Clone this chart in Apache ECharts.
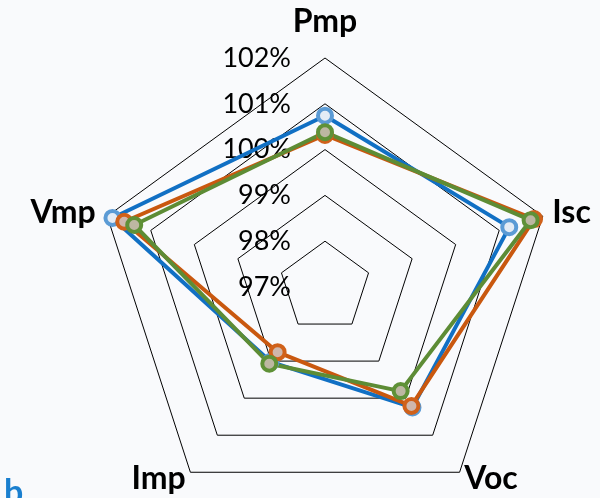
<!DOCTYPE html>
<html>
<head>
<meta charset="utf-8">
<script src="https://cdn.jsdelivr.net/npm/echarts@6/dist/echarts.min.js"></script>
<style>
  html, body { margin: 0; padding: 0; background: #f9fafc; }
  #chart { width: 600px; height: 498px; }
</style>
</head>
<body>
<div id="chart"></div>
<script>
// Axes of the radar, in ECharts order (counter-clockwise from the top)
const indicators = ['Pmp', 'Vmp', 'Imp', 'Voc', 'Isc'];
// Gap between each axis end and its name
const nameGaps = [20, 12, 8, 8, 10];
// Scale of the rings, in percent
const scaleMin = 97;
const scaleMax = 102;
// Relative values (%) for each sample, in indicator order
const seriesBlue   = [100.74, 101.88, 99.02, 100.25, 101.23];
const seriesOrange = [100.32, 101.61, 98.76, 100.21, 101.80];
const seriesGreen  = [100.38, 101.38, 99.07, 99.81, 101.72];

const lineColors   = ['#1170c4', '#c9580f', '#5d8c35'];
const ringColors   = ['#5b9bd5', '#d0611a', '#5f9137'];
const fillColors   = ['#e4ecf5', '#cfb7ac', '#bdb7a2'];
const seriesValues = [seriesBlue, seriesOrange, seriesGreen];

const chart = echarts.init(document.getElementById('chart'));

const option = {
  backgroundColor: '#f9fafc',
  animation: false,
  radar: {
    center: [325, 287],
    radius: 229,
    startAngle: 90,
    shape: 'polygon',
    splitNumber: scaleMax - scaleMin,
    indicator: indicators.map((name, i) => ({
      name: name,
      min: scaleMin,
      max: scaleMax,
      nameGap: nameGaps[i],
      axisLabel: { show: i === 0 }
    })),
    axisName: {
      color: '#000',
      fontFamily: 'Lato',
      fontWeight: 'bold',
      fontSize: 32
    },
    splitLine: { lineStyle: { color: '#000', width: 1 } },
    splitArea: { show: false },
    axisLine: { show: false },
    axisTick: { show: false },
    axisLabel: {
      color: '#000',
      fontFamily: 'Lato',
      fontSize: 27,
      margin: 34,
      formatter: v => v + '%'
    }
  },
  series: [{
    type: 'radar',
    symbol: 'circle',
    symbolSize: 14,
    data: seriesValues.map((vals, i) => ({
      value: vals,
      lineStyle: { color: lineColors[i], width: 4 },
      itemStyle: { color: fillColors[i], borderColor: ringColors[i], borderWidth: 4 }
    }))
  }],
  graphic: [{
    type: 'text',
    left: 4,
    top: 476,
    style: { text: 'b', fill: '#1a7fcf', font: 'bold 34px Lato' }
  }]
};

chart.setOption(option);
</script>
</body>
</html>
